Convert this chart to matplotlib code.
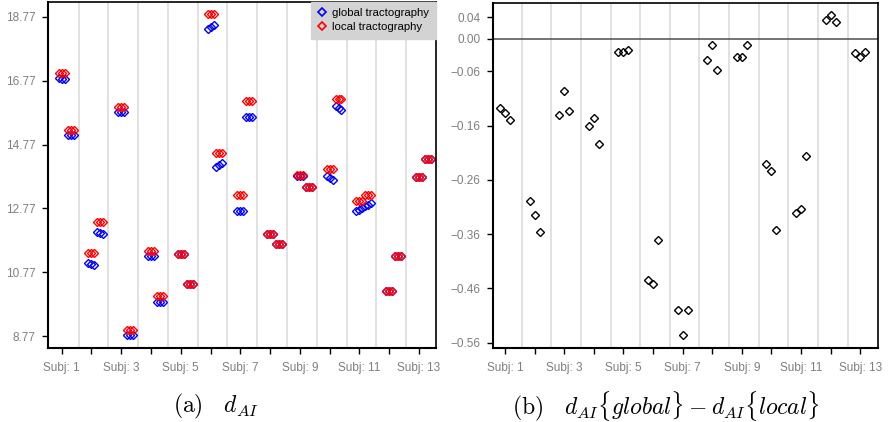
import numpy as np
import matplotlib
matplotlib.use('Agg')
import matplotlib.pyplot as plt
from matplotlib.lines import Line2D

plt.rcParams['font.family'] = ['Liberation Sans', 'DejaVu Sans']
plt.rcParams['mathtext.fontset'] = 'cm'

subjects = np.arange(1, 14)
tick_labels = ['Subj: %d' % s if s % 2 == 1 else '' for s in subjects]

# d_AI, two groups per subject (A, B), three repeats per group
global_a = [[16.85, 16.84, 16.84], [11.07, 11.03, 10.99], [15.79, 15.80, 15.79], [11.27, 11.27, 11.27],
            [11.35, 11.35, 11.35], [18.40, 18.45, 18.52], [12.70, 12.69, 12.70], [11.98, 11.98, 11.98],
            [13.79, 13.79, 13.79], [13.78, 13.72, 13.65], [12.68, 12.73, 12.78], [10.17, 10.17, 10.17],
            [13.74, 13.74, 13.74]]
local_a = [[17.00, 17.01, 17.00], [11.36, 11.36, 11.36], [15.94, 15.94, 15.94], [11.45, 11.45, 11.45],
           [11.35, 11.35, 11.35], [18.86, 18.86, 18.86], [13.19, 13.19, 13.19], [11.98, 11.98, 11.98],
           [13.81, 13.81, 13.81], [14.01, 14.01, 14.01], [13.00, 13.00, 13.00], [10.17, 10.17, 10.17],
           [13.74, 13.74, 13.74]]
global_b = [[15.07, 15.06, 15.06], [12.04, 12.00, 11.96], [8.79, 8.80, 8.79], [9.84, 9.84, 9.84],
            [10.40, 10.40, 10.40], [14.07, 14.12, 14.18], [15.65, 15.63, 15.64], [11.64, 11.64, 11.64],
            [13.45, 13.45, 13.45], [15.99, 15.93, 15.85], [12.84, 12.89, 12.94], [11.28, 11.28, 11.28],
            [14.32, 14.32, 14.32]]
local_b = [[15.22, 15.22, 15.22], [12.33, 12.33, 12.33], [8.95, 8.95, 8.95], [10.02, 10.02, 10.02],
           [10.40, 10.40, 10.40], [14.52, 14.52, 14.52], [16.15, 16.15, 16.15], [11.64, 11.64, 11.64],
           [13.45, 13.45, 13.45], [16.21, 16.21, 16.21], [13.19, 13.19, 13.19], [11.28, 11.28, 11.28],
           [14.32, 14.32, 14.32]]

# d_AI{global} - d_AI{local}, three per subject
diff = [[-0.128, -0.136, -0.150], [-0.298, -0.325, -0.355], [-0.140, -0.096, -0.132],
        [-0.161, -0.145, -0.194], [-0.025, -0.024, -0.020], [-0.445, -0.452, -0.371],
        [-0.499, -0.546, -0.500], [-0.039, -0.012, -0.058], [-0.034, -0.034, -0.011],
        [-0.231, -0.243, -0.352], [-0.321, -0.313, -0.216], [0.035, 0.044, 0.031],
        [-0.026, -0.034, -0.025]]

left_yticks = [8.77, 10.77, 12.77, 14.77, 16.77, 18.77]
right_yticks = [0.04, 0.00, -0.06, -0.16, -0.26, -0.36, -0.46, -0.56]

gray = '#7f7f7f'
grid_col = '#d9d9d9'


def style_axes(ax):
	for s in ax.spines.values():
		s.set_linewidth(1.2)
		s.set_color('black')
	ax.spines['left'].set_linewidth(1.5)
	ax.spines['bottom'].set_linewidth(1.5)
	ax.set_xticks(subjects)
	ax.set_xticklabels(tick_labels)
	ax.tick_params(axis='x', length=4.5, width=1, pad=5.5, labelsize=8.5, labelcolor=gray)
	ax.tick_params(axis='y', length=4.5, width=1, pad=4.5, labelsize=8.5, labelcolor=gray)
	for g in subjects[:-1] + 0.57:
		ax.axvline(g, color=grid_col, lw=1.1, zorder=0)


fig = plt.figure(figsize=(8.89, 4.22), dpi=100)

# left panel
ax1 = fig.add_axes([0.054, 0.1754, 0.4366, 0.821])
style_axes(ax1)
off_a = np.array([-0.1, 0.0, 0.1])
off_b = np.array([0.2, 0.3, 0.4])
for i, s in enumerate(subjects):
	ax1.plot(s + off_a, global_a[i], 'D', ms=4, mfc='none', mec='blue', mew=1, ls='none')
	ax1.plot(s + off_b, global_b[i], 'D', ms=4, mfc='none', mec='blue', mew=1, ls='none')
	ax1.plot(s + off_a, local_a[i], 'D', ms=4, mfc='none', mec='red', mew=1, ls='none')
	ax1.plot(s + off_b, local_b[i], 'D', ms=4, mfc='none', mec='red', mew=1, ls='none')
ax1.set_xlim(0.54, 13.58)
ax1.set_ylim(8.395, 19.255)
ax1.set_yticks(left_yticks)
ax1.set_yticklabels(['%.2f' % v for v in left_yticks])

handles = [Line2D([], [], marker='D', ms=4.5, mfc='none', mec='blue', mew=1.2, ls='none'),
           Line2D([], [], marker='D', ms=4.5, mfc='none', mec='red', mew=1.2, ls='none')]
leg = ax1.legend(handles, ['global tractography', 'local tractography'], loc='upper right',
                 fontsize=8.2, frameon=True, fancybox=False, borderaxespad=0.0,
                 handlelength=0.8, handletextpad=0.5, labelspacing=0.35, borderpad=0.6)
leg.get_frame().set_facecolor('#d3d3d3')
leg.get_frame().set_edgecolor('#d3d3d3')
leg.get_frame().set_alpha(1)

# right panel
ax2 = fig.add_axes([0.5542, 0.1746, 0.4338, 0.8184])
style_axes(ax2)
ax2.axhline(0, color='#4d4d4d', lw=1.1, zorder=1)
off_d = np.array([-0.17, 0.0, 0.17])
for i, s in enumerate(subjects):
	ax2.plot(s + off_d, diff[i], 'D', ms=4.5, mfc='none', mec='black', mew=1, ls='none')
ax2.set_xlim(0.585, 13.61)
ax2.set_ylim(-0.5703, 0.0663)
ax2.set_yticks(right_yticks)
ax2.set_yticklabels(['%.2f' % v if v >= 0 else '\u2212%.2f' % abs(v) for v in right_yticks])

fig.text(0.243, 0.038, r'$\mathrm{(a)}\quad d_{AI}$', ha='center', va='center', fontsize=17)
fig.text(0.749, 0.038, r'$\mathrm{(b)}\quad d_{AI}\{global\} - d_{AI}\{local\}$', ha='center', va='center', fontsize=17)

fig.savefig('out.png', dpi=100)
